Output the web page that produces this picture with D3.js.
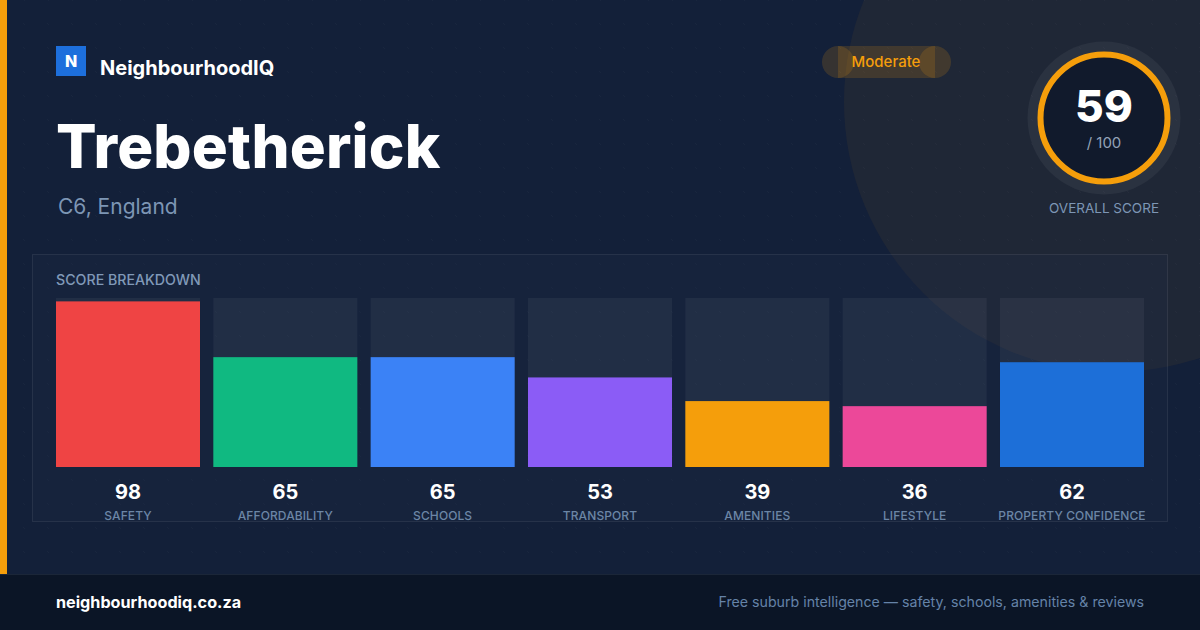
<!DOCTYPE html>
<html><head><meta charset="utf-8">
<script src="https://cdn.jsdelivr.net/npm/d3@7"></script>
<style>html,body{margin:0;padding:0;background:#132039;}svg{display:block;font-family:Inter,"Noto Sans",sans-serif;}</style>
</head><body>
<svg id="c" width="1200" height="630"></svg>
<script>
const categories = ["SAFETY","AFFORDABILITY","SCHOOLS","TRANSPORT","AMENITIES","LIFESTYLE","PROPERTY CONFIDENCE"];
const scores = [98,65,65,53,39,36,62];
const barColors = ["#ef4444","#10b981","#3b82f6","#8b5cf6","#f59e0b","#ec4899","#1d6fd8"];
const overallScore = 59;
const overallMax = 100;
const suburb = "Trebetherick";
const region = "C6, England";
const rating = "Moderate";

const svg = d3.select("#c");
const W = 1200, H = 630;

// background
const defs = svg.append("defs");
const pat = defs.append("pattern").attr("id","dots").attr("width",24).attr("height",24).attr("patternUnits","userSpaceOnUse");
pat.append("circle").attr("cx",24).attr("cy",24).attr("r",1).attr("fill","rgba(255,255,255,0.035)");
pat.append("circle").attr("cx",0).attr("cy",0).attr("r",1).attr("fill","rgba(255,255,255,0.035)");
svg.append("rect").attr("width",W).attr("height",H).attr("fill","#132039");
svg.append("rect").attr("width",W).attr("height",574).attr("fill","url(#dots)");
svg.append("circle").attr("cx",1114).attr("cy",102).attr("r",270).attr("fill","rgba(245,158,11,0.06)");
svg.append("rect").attr("x",0).attr("y",0).attr("width",7).attr("height",574).attr("fill","#f59e0b");

// footer
svg.append("rect").attr("x",0).attr("y",574).attr("width",W).attr("height",56).attr("fill","#0b1526");
svg.append("line").attr("x1",0).attr("x2",W).attr("y1",574.5).attr("y2",574.5).attr("stroke","#1b2638");
svg.append("text").attr("x",56).attr("y",608).attr("fill","#ffffff").attr("font-size",16.2).attr("font-weight",700).text("neighbourhoodiq.co.za");
svg.append("text").attr("x",1144).attr("y",607).attr("text-anchor","end").attr("fill","#6583a8").attr("font-size",14.2).text("Free suburb intelligence — safety, schools, amenities & reviews");

// brand
svg.append("rect").attr("x",56).attr("y",46).attr("width",30).attr("height",30).attr("fill","#1d6fdc");
svg.append("text").attr("x",71).attr("y",67).attr("text-anchor","middle").attr("fill","#fff").attr("font-size",16).attr("font-weight",800).text("N");
svg.append("text").attr("x",100).attr("y",75).attr("fill","#fff").attr("font-size",20).attr("font-weight",700).text("NeighbourhoodIQ");

// title
svg.append("text").attr("x",56).attr("y",168).attr("fill","#fff").attr("font-size",60).attr("font-weight",800).attr("letter-spacing",0.2).text(suburb);
svg.append("text").attr("x",58).attr("y",214).attr("fill","#7d96b5").attr("font-size",21).text(region);

// badge
const badge = svg.append("g");
badge.append("rect").attr("x",838).attr("y",46).attr("width",97).attr("height",32).attr("fill","rgba(245,158,11,0.16)");
badge.append("circle").attr("cx",838).attr("cy",62).attr("r",16).attr("fill","rgba(245,158,11,0.16)");
badge.append("circle").attr("cx",935).attr("cy",62).attr("r",16).attr("fill","rgba(245,158,11,0.16)");
badge.append("text").attr("x",886).attr("y",67).attr("text-anchor","middle").attr("fill","#f59e0b").attr("font-size",15).attr("font-weight",500).text(rating);

// overall score ring
const cx = 1104, cy = 118;
svg.append("circle").attr("cx",cx).attr("cy",cy).attr("r",76.5).attr("fill","rgba(255,255,255,0.05)");
svg.append("circle").attr("cx",cx).attr("cy",cy).attr("r",63.5).attr("fill","#111a2c").attr("stroke","#f59e0b").attr("stroke-width",6);
svg.append("text").attr("x",cx).attr("y",122).attr("text-anchor","middle").attr("fill","#fff").attr("font-size",44).attr("font-weight",800).text(overallScore);
svg.append("text").attr("x",cx).attr("y",148).attr("text-anchor","middle").attr("fill","#94a3b8").attr("font-size",15).text("/ " + overallMax);
svg.append("text").attr("x",cx).attr("y",213).attr("text-anchor","middle").attr("fill","#7d96b5").attr("font-size",13.5).attr("font-weight",400).text("OVERALL SCORE");

// panel
svg.append("rect").attr("x",32.5).attr("y",254.5).attr("width",1135).attr("height",267).attr("fill","rgba(30,45,70,0.25)").attr("stroke","rgba(255,255,255,0.08)");
svg.append("text").attr("x",56).attr("y",285).attr("fill","#8099b8").attr("font-size",14.2).attr("font-weight",500).text("SCORE BREAKDOWN");

// bars
const x = d3.scaleBand().domain(categories).range([56,1144]).paddingInner(13.33/157.33).paddingOuter(0);
const y = d3.scaleLinear().domain([0,100]).range([467,298]);
const g = svg.append("g");
const cells = g.selectAll("g.cell").data(categories.map((c,i)=>({c, v:scores[i], col:barColors[i]}))).join("g").attr("class","cell");
cells.append("rect").attr("x",d=>x(d.c)).attr("y",y(100)).attr("width",x.bandwidth()).attr("height",y(0)-y(100)).attr("fill","rgba(255,255,255,0.05)");
cells.append("rect").attr("x",d=>x(d.c)).attr("y",d=>y(d.v)).attr("width",x.bandwidth()).attr("height",d=>y(0)-y(d.v)).attr("fill",d=>d.col);
cells.append("text").attr("x",d=>x(d.c)+x.bandwidth()/2).attr("y",499).attr("text-anchor","middle").attr("fill","#fff").attr("font-size",20).attr("font-weight",700).text(d=>d.v);
cells.append("text").attr("x",d=>x(d.c)+x.bandwidth()/2).attr("y",520).attr("text-anchor","middle").attr("fill","#6c86a6").attr("font-size",12).attr("font-weight",500).attr("letter-spacing",0.1).text(d=>d.c);
</script>
</body></html>
